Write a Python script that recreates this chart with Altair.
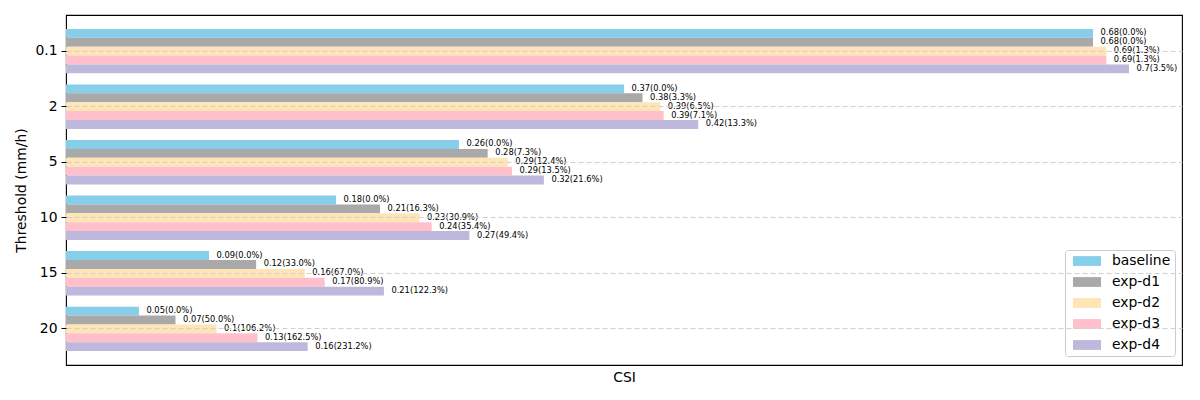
import altair as alt
import pandas as pd

thresholds = ["0.1", "2", "5", "10", "15", "20"]
series = ["baseline", "exp-d1", "exp-d2", "exp-d3", "exp-d4"]
colors = ["#87CEEB", "#A9A9A9", "#FFE4B5", "#FFC0CB", "#BEB8DC"]

csi_baseline = [0.680, 0.3695, 0.2602, 0.1788, 0.0947, 0.0483]
csi_d1 = [0.680, 0.3817, 0.2792, 0.2079, 0.1259, 0.0725]
csi_d2 = [0.6888, 0.3935, 0.2925, 0.2340, 0.1581, 0.0997]
csi_d3 = [0.6888, 0.3957, 0.2953, 0.2421, 0.1713, 0.1268]
csi_d4 = [0.7038, 0.4186, 0.3164, 0.2671, 0.2105, 0.1600]

labels_baseline = ["0.68(0.0%)", "0.37(0.0%)", "0.26(0.0%)", "0.18(0.0%)", "0.09(0.0%)", "0.05(0.0%)"]
labels_d1 = ["0.68(0.0%)", "0.38(3.3%)", "0.28(7.3%)", "0.21(16.3%)", "0.12(33.0%)", "0.07(50.0%)"]
labels_d2 = ["0.69(1.3%)", "0.39(6.5%)", "0.29(12.4%)", "0.23(30.9%)", "0.16(67.0%)", "0.1(106.2%)"]
labels_d3 = ["0.69(1.3%)", "0.39(7.1%)", "0.29(13.5%)", "0.24(35.4%)", "0.17(80.9%)", "0.13(162.5%)"]
labels_d4 = ["0.7(3.5%)", "0.42(13.3%)", "0.32(21.6%)", "0.27(49.4%)", "0.21(122.3%)", "0.16(231.2%)"]

values = [csi_baseline, csi_d1, csi_d2, csi_d3, csi_d4]
labels = [labels_baseline, labels_d1, labels_d2, labels_d3, labels_d4]

rows = []
for s, vals, labs in zip(series, values, labels):
    for t, v, l in zip(thresholds, vals, labs):
        rows.append({"threshold": t, "series": s, "csi": v, "label": l})
df = pd.DataFrame(rows)

FONT = "DejaVu Sans"

base = alt.Chart(df).encode(
    y=alt.Y(
        "threshold:N",
        sort=thresholds,
        scale=alt.Scale(paddingInner=0.2, paddingOuter=0.25),
        axis=alt.Axis(
            title="Threshold (mm/h)",
            titleFont=FONT,
            titleFontSize=13.9,
            titleFontWeight="normal",
            titleColor="black",
            titleAngle=-90,
            titleX=-45,
            titleY=175,
            titleAlign="center",
            titleBaseline="middle",
            labelFont=FONT,
            labelFontSize=13.9,
            labelColor="black",
            labelPadding=4,
            ticks=True,
            tickSize=5,
            tickColor="black",
            tickWidth=1,
            domain=False,
            grid=True,
            gridColor="#d0d0d0",
            gridDash=[5, 3],
            gridWidth=1,
            bandPosition=0.5,
            zindex=1,
        ),
    ),
    yOffset=alt.YOffset(
        "series:N",
        sort=series,
        scale=alt.Scale(paddingInner=0, paddingOuter=0),
    ),
    x=alt.X(
        "csi:Q",
        scale=alt.Scale(domain=[0, 0.7389], nice=False, zero=True),
        axis=alt.Axis(
            title="CSI",
            titleFont=FONT,
            titleFontSize=13.9,
            titleFontWeight="normal",
            titleColor="black",
            titleX=558,
            titleY=12,
            titleAlign="center",
            titleBaseline="middle",
            labels=False,
            ticks=False,
            domain=False,
            grid=False,
        ),
    ),
)

bars = base.mark_bar(strokeWidth=0).encode(
    color=alt.Color(
        "series:N",
        sort=series,
        scale=alt.Scale(domain=series, range=colors),
        legend=alt.Legend(
            title=None,
            orient="none",
            legendX=999,
            legendY=235,
            symbolType="M-0.43,-0.7L3.57,-0.7L3.57,0.7L-0.43,0.7Z",
            symbolSize=196,
            symbolStrokeWidth=0,
            symbolOpacity=1,
            labelFont=FONT,
            labelFontSize=13.9,
            labelColor="black",
            labelOffset=29,
            padding=4,
            rowPadding=7,
            fillColor="white",
            strokeColor="#cccccc",
            cornerRadius=3,
        ),
    )
)

text = base.mark_text(
    align="left", baseline="middle", dx=7.5, fontSize=8.3, font=FONT, color="black"
).encode(text="label:N")

chart = (
    alt.layer(bars, text)
    .properties(
        width=1116,
        height=350,
        autosize=alt.AutoSizeParams(type="none"),
        padding={"left": 58, "top": 7, "right": 2, "bottom": 27},
    )
    .configure(font=FONT)
    .configure_view(stroke="black", strokeWidth=1.1)
)

chart.save("out.html", embed_options={"renderer": "svg", "actions": False})
